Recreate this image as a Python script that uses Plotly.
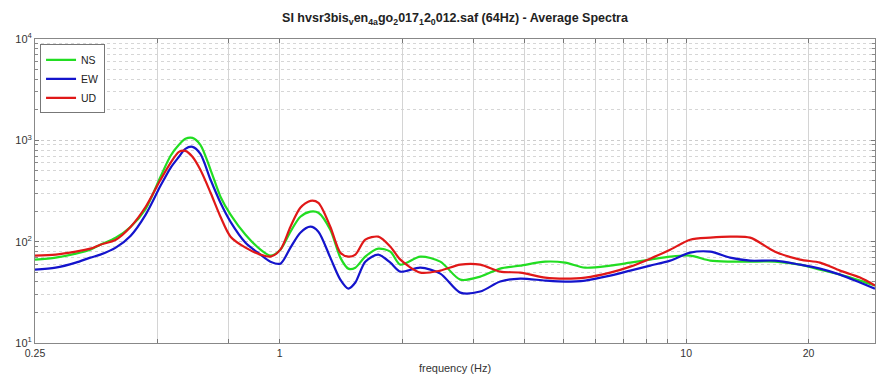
import plotly.graph_objects as go

freq = [0.25, 0.281, 0.315, 0.342, 0.362, 0.395, 0.43, 0.468, 0.509, 0.539, 0.565, 0.586,
        0.61, 0.638, 0.676, 0.715, 0.757, 0.824, 0.897, 0.949, 1.004, 1.063, 1.124, 1.19,
        1.245, 1.332, 1.41, 1.475, 1.535, 1.624, 1.748, 1.872, 1.981, 2.218, 2.484, 2.782,
        3.115, 3.488, 3.906, 4.5, 5.04, 5.644, 6.504, 7.285, 8.156, 9.134, 10.23, 11.46,
        12.83, 14.37, 16.55, 19.07, 21.35, 23.91, 26.78, 29.15]

ns = [66.5, 69.6, 76.2, 83.4, 93.4, 109.5, 140.5, 211, 437, 704, 903, 1035, 1058, 903, 512,
      278, 185, 117.2, 83.4, 72.8, 83.4, 125.5, 176, 198, 193, 131, 69.6, 54.2, 55.4, 71.2,
      85.3, 79.7, 59.3, 71.2, 63.5, 42.2, 45.2, 54.2, 58.0, 63.5, 62.1, 55.4, 58.0, 62.1,
      66.5, 71.2, 72.8, 65.0, 63.5, 63.5, 63.5, 59.3, 53.0, 47.3, 41.3, 36.9]

ew = [53.0, 55.4, 62.1, 69.6, 74.5, 87.3, 114.6, 185, 356, 536, 688, 825, 863, 736, 408,
      242, 157, 97.7, 74.5, 63.5, 60.7, 87.3, 122.6, 140.5, 125.5, 69.6, 42.2, 34.4, 39.5,
      63.5, 74.5, 62.1, 50.6, 55.4, 48.4, 31.4, 32.2, 40.4, 43.2, 41.3, 40.4, 41.3, 46.2,
      51.8, 58.0, 65.0, 77.9, 79.7, 69.6, 65.0, 65.0, 59.3, 54.2, 47.3, 39.5, 34.4]

ud = [72.8, 74.5, 79.7, 85.3, 93.4, 104.6, 140.5, 221, 408, 600, 770, 788, 688, 512, 304,
      176, 112.0, 87.3, 74.5, 71.2, 83.4, 140.5, 216, 253, 242, 140.5, 77.9, 71.2, 74.5,
      104.6, 112.0, 89.3, 66.5, 49.5, 51.8, 59.3, 59.3, 50.6, 49.5, 44.2, 43.2, 44.2, 49.5,
      56.7, 68.0, 83.4, 104.6, 109.5, 112.0, 109.5, 79.7, 66.5, 62.1, 51.8, 44.2, 36.9]

x_tickvals = [0.25, 0.5, 0.75, 1, 2, 3, 4, 5, 6, 7, 8, 9, 10, 20]
x_ticktext = ["0.25", "", "", "1", "", "", "", "", "", "", "", "", "10", "20"]
y_tickvals = [10, 100, 1000, 10000]
y_ticktext = ["10<sup>1</sup>", "10<sup>2</sup>", "10<sup>3</sup>", "10<sup>4</sup>"]

series = [("NS", ns, "#22dd22"), ("EW", ew, "#1414cc"), ("UD", ud, "#e01818")]

FONT = "Liberation Sans, Arial, sans-serif"

fig = go.Figure()
for name, vals, col in series:
    fig.add_trace(go.Scatter(x=freq, y=vals, name=name, mode="lines",
                             line=dict(color=col, width=2.2, shape="spline", smoothing=0.8)))

fig.update_layout(
    width=882, height=383,
    margin=dict(l=35, r=7, t=39, b=40),
    paper_bgcolor="white", plot_bgcolor="white",
    font=dict(family=FONT, size=10, color="#333333"),
    title=dict(text="<b>SI hvsr3bis<sub>v</sub>en<sub>4a</sub>go<sub>2</sub>017<sub>1</sub>2<sub>0</sub>012.saf (64Hz) - Average Spectra</b>",
               x=0.5, xref="paper", xanchor="center", y=0.965, yref="container",
               font=dict(family=FONT, size=12.5, color="#222222")),
    showlegend=True,
    legend=dict(x=0.006, y=0.982, xanchor="left", yanchor="top",
                bgcolor="white", bordercolor="#777777", borderwidth=1,
                font=dict(family=FONT, size=10.5, color="#222222"),
                tracegroupgap=0, itemwidth=30),
)

fig.update_xaxes(
    type="log", range=[-0.60206, 1.4647],
    tickvals=x_tickvals, ticktext=x_ticktext,
    ticks="inside", ticklen=4, tickcolor="#777777",
    showgrid=True, gridcolor="#d4d4d4", gridwidth=1,
    showline=True, linecolor="#888888", linewidth=1, mirror="ticks",
    zeroline=False,
    title=dict(text="frequency (Hz)", standoff=6, font=dict(family=FONT, size=11, color="#333333")),
    tickfont=dict(family=FONT, size=10.5, color="#333333"),
)

fig.update_yaxes(
    type="log", range=[1, 4],
    tickvals=y_tickvals, ticktext=y_ticktext,
    ticks="inside", ticklen=4, tickcolor="#777777",
    showgrid=True, gridcolor="#cccccc", griddash="dot", gridwidth=1,
    minor=dict(dtick="D1", ticks="inside", ticklen=3, tickcolor="#888888",
               showgrid=True, gridcolor="#d6d6d6", griddash="dot", gridwidth=1),
    showline=True, linecolor="#888888", linewidth=1, mirror="allticks",
    zeroline=False,
    tickfont=dict(family=FONT, size=11, color="#333333"),
)

fig.write_html("out.html")
